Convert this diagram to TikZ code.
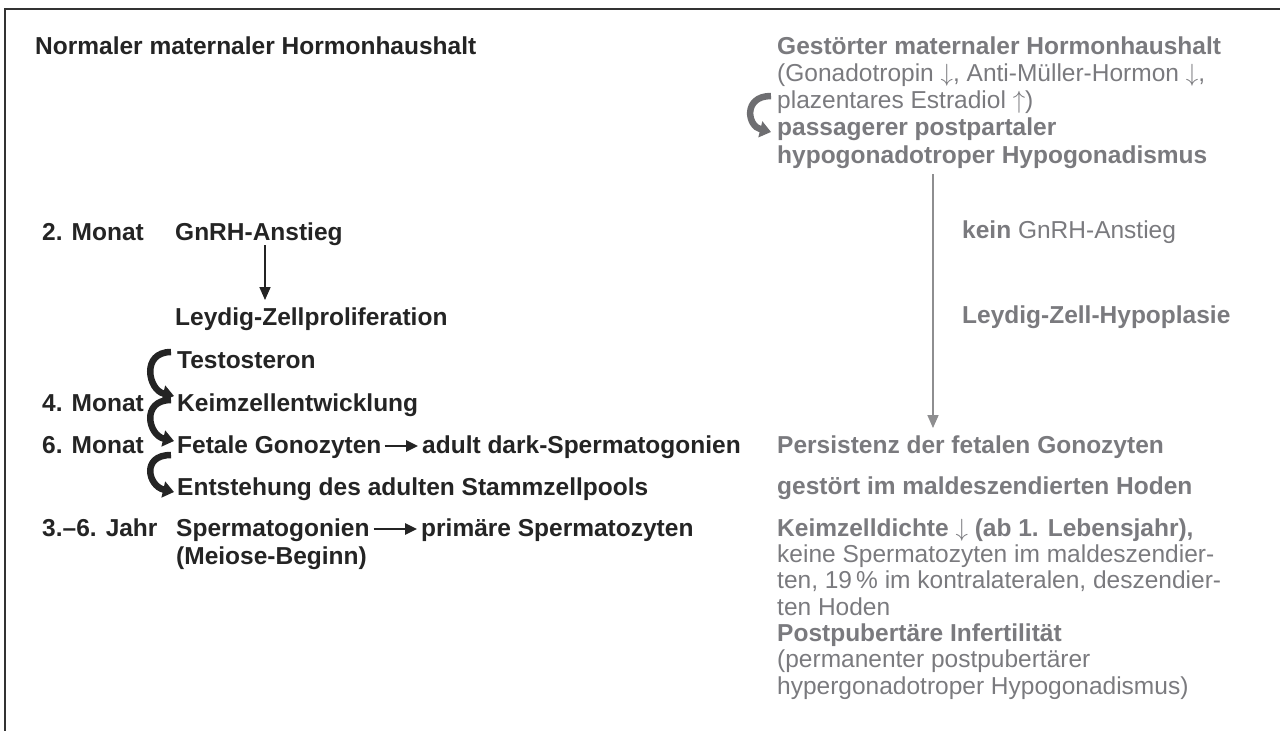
\documentclass[tikz,border=0pt]{standalone}
\usepackage{fontspec}
\setmainfont{Liberation Sans}
\usetikzlibrary{arrows.meta, calc, positioning}

\definecolor{ink}{HTML}{242424}
\definecolor{greyink}{HTML}{7A7A7E}
\definecolor{greyline}{HTML}{8E8E90}

\begin{document}
\begin{tikzpicture}[x=1pt, y=-1pt,
    every node/.style={inner sep=0pt, anchor=base west, align=left},
    lefttxt/.style={text=ink, font=\fontsize{24.5}{28}\selectfont\bfseries},
    righttxt/.style={text=greyink, font=\fontsize{24.5}{27.2}\selectfont},
    rightbold/.style={text=greyink, font=\fontsize{24.5}{28}\selectfont\bfseries},
    rightlow/.style={text=greyink, font=\fontsize{24.5}{26.3}\selectfont},
    bendarrow/.style={line width=6.5pt, -{Triangle[length=11pt, width=16pt]}},
    downarrow/.style={line width=1.6pt, -{Triangle[length=13pt, width=11pt]}},
    inarrow/.style={ink, line width=2.5pt, -{Triangle[length=12pt, width=11pt]}}]
    \useasboundingbox (0, 0) rectangle (1280, 731);
    \draw [line width=1.8pt, black!80] (1280, 9) -- (5, 9) -- (5, 731);

    % left side
    \node [lefttxt] (normal) at (35, 54) {Normaler maternaler Hormonhaushalt};
    \node [lefttxt] (m2) at (42, 240) {2. Monat};
    \node [lefttxt] (gnrh) at (175, 240) {GnRH-Anstieg};
    \node [lefttxt] (leydig) at (175, 325) {Leydig-Zellproliferation};
    \node [lefttxt] (testo) at (177, 368) {Testosteron};
    \node [lefttxt] (m4) at (42, 411) {4. Monat};
    \node [lefttxt] (keim) at (177, 411) {Keimzellentwicklung};
    \node [lefttxt] (m6) at (42, 453) {6. Monat};
    \node [lefttxt] (fetal) at (177, 453) {Fetale Gonozyten};
    \node [lefttxt] (dark) at (422, 453) {adult dark-Spermatogonien};
    \node [lefttxt] (pool) at (177, 495) {Entstehung des adulten Stammzellpools};
    \node [lefttxt] (j36) at (42, 536) {3.--6. Jahr};
    \node [lefttxt] (spg) at (176, 536) {Spermatogonien};
    \node [lefttxt] (spz) at (421, 536) {primäre Spermatozyten};
    \node [lefttxt] (meiose) at (176, 564) {(Meiose-Beginn)};

    \coordinate (gx) at (265, 0);
    \draw [downarrow, ink, shorten >=7pt] (gnrh.south -| gx) -- (leydig.north -| gx);
    \draw [inarrow] ([xshift=3pt, yshift=7pt]fetal.base east) -- ([xshift=-4pt, yshift=7pt]dark.base west);
    \draw [inarrow] ([xshift=4pt, yshift=7pt]spg.base east) -- ([xshift=-4pt, yshift=7pt]spz.base west);
    \foreach \a/\b/\s/\e in {testo/keim/-16/-15, keim/fetal/-11/-12, fetal/pool/2/-3} {
      \draw [bendarrow, ink] ($(\a.base west)+(-6,\s)$) .. controls +(-30,0) and +(-26,-6) .. ($(\b.base west)+(-3,\e)$);
    }

    % right side (multi-line nodes sit on their last line)
    \node [righttxt] (gest) at (777, 163) {{\bfseries Gestörter maternaler Hormonhaushalt}\\
      (Gonadotropin $\downarrow$, Anti-Müller-Hormon $\downarrow$,\\
      plazentares Estradiol $\uparrow$)\\
      {\bfseries passagerer postpartaler}\\
      {\bfseries hypogonadotroper Hypogonadismus}};
    \node [righttxt] (kein) at (962, 238) {{\bfseries kein} GnRH-Anstieg};
    \node [rightbold] (hypopl) at (962, 323) {Leydig-Zell-Hypoplasie};
    \node [rightbold] (persist) at (777, 453) {Persistenz der fetalen Gonozyten};
    \node [rightbold] (maldesz) at (777, 494) {gestört im maldeszendierten Hoden};
    \node [rightlow] (dichte) at (777, 694) {{\bfseries Keimzelldichte} $\downarrow$ {\bfseries (ab 1. Lebensjahr),}\\
      keine Spermatozyten im maldeszendier-\\
      ten, 19\,\% im kontralateralen, deszendier-\\
      ten Hoden\\
      {\bfseries Postpubertäre Infertilität}\\
      (permanenter postpubertärer\\
      hypergonadotroper Hypogonadismus)};

    \coordinate (vx) at (933, 0);
    \draw [downarrow, greyline, shorten <=6pt, shorten >=7pt] (gest.south -| vx) -- (persist.north -| vx);
    \draw [bendarrow, greyink!90!black] ($(gest.base west)+(-6,-67)$) .. controls +(-28,0) and +(-24,-6) .. ($(gest.base west)+(-6,-31)$);
  \end{tikzpicture}
\end{document}
